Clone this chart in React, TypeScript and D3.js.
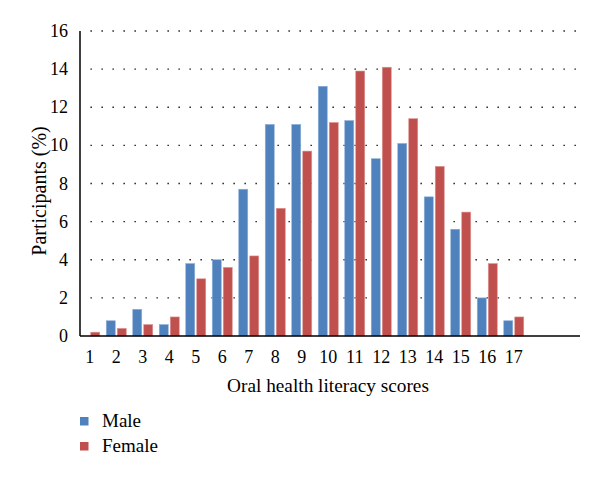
import React from "react";
import * as d3 from "d3";

const categories = [1, 2, 3, 4, 5, 6, 7, 8, 9, 10, 11, 12, 13, 14, 15, 16, 17, 18, 19];
const tickLabels = ["1", "2", "3", "4", "5", "6", "7", "8", "9", "10", "11", "12", "13", "14", "15", "16", "17"];
const maleValues = [0, 0.8, 1.4, 0.6, 3.8, 4.0, 7.7, 11.1, 11.1, 13.1, 11.3, 9.3, 10.1, 7.3, 5.6, 2.0, 0.8];
const femaleValues = [0.2, 0.4, 0.6, 1.0, 3.0, 3.6, 4.2, 6.7, 9.7, 11.2, 13.9, 14.1, 11.4, 8.9, 6.5, 3.8, 1.0];
const yTicks = [0, 2, 4, 6, 8, 10, 12, 14, 16];
const seriesNames = ["Male", "Female"];
const seriesColors = ["#4F81BD", "#C0504D"];
const seriesStroke = ["#8DB0DA", "#DC9694"];

export default function App() {
  const W = 600, H = 479;
  const axisX = 80, plotRight = 580, plotTop = 31, plotBottom = 336;
  const x = d3.scaleBand<number>().domain(categories).range([76.5, plotRight]).padding(0);
  const y = d3.scaleLinear().domain([0, 16]).range([plotBottom, plotTop]);
  const barW = 9;
  const gap = 1;
  const ff = "Liberation Serif, Times New Roman, serif";
  const series = [maleValues, femaleValues];

  return (
    <div style={{ fontFamily: ff }}>
      <style>{`svg text { font-family: "Liberation Serif", "Times New Roman", serif !important; }`}</style>
      <svg width={W} height={H} style={{ position: "absolute", left: 0, top: 0, background: "#fff", fontFamily: ff }}>
        {yTicks.filter((t) => t > 0).map((t) => (
          <line key={"g" + t} x1={90.5} x2={plotRight} y1={y(t)} y2={y(t)} stroke="#000" strokeWidth={1.3} strokeDasharray="1.3 9.7" />
        ))}
        {series.map((vals, si) =>
          vals.map((v, i) => {
            const c = x(categories[i])! + x.bandwidth() / 2;
            const bx = si === 0 ? c - gap - barW : c + gap;
            return (
              <rect key={si + "-" + i} x={bx} y={y(v)} width={barW} height={y(0) - y(v)} fill={seriesColors[si]} stroke={seriesStroke[si]} strokeWidth={0.6} />
            );
          })
        )}
        <line x1={axisX} x2={axisX} y1={plotTop} y2={plotBottom} stroke="#000" strokeWidth={1.5} />
        <line x1={axisX} x2={plotRight} y1={plotBottom} y2={plotBottom} stroke="#000" strokeWidth={1.5} />
        {yTicks.map((t) => (
          <text key={"yt" + t} x={68} y={y(t)} dy="0.34em" textAnchor="end" fontSize={18} fill="#000" fontFamily={ff}>{t}</text>
        ))}
        {tickLabels.map((l, i) => (
          <text key={"xt" + l} x={x(categories[i])! + x.bandwidth() / 2} y={357} dy="0.34em" textAnchor="middle" fontSize={18} fill="#000" fontFamily={ff}>{l}</text>
        ))}
        <text x={328} y={391.5} textAnchor="middle" fontSize={19.3} fill="#000" fontFamily={ff}>Oral health literacy scores</text>
        <text transform={`translate(46,191) rotate(-90)`} textAnchor="middle" fontSize={20} fill="#000" fontFamily={ff}>Participants (%)</text>
        {seriesNames.map((n, i) => (
          <g key={n}>
            <rect x={80} y={417 + i * 25} width={8.5} height={8.5} fill={seriesColors[i]} />
            <text x={102} y={426.5 + i * 25} fontSize={19} fill="#000" fontFamily={ff}>{n}</text>
          </g>
        ))}
      </svg>
    </div>
  );
}
